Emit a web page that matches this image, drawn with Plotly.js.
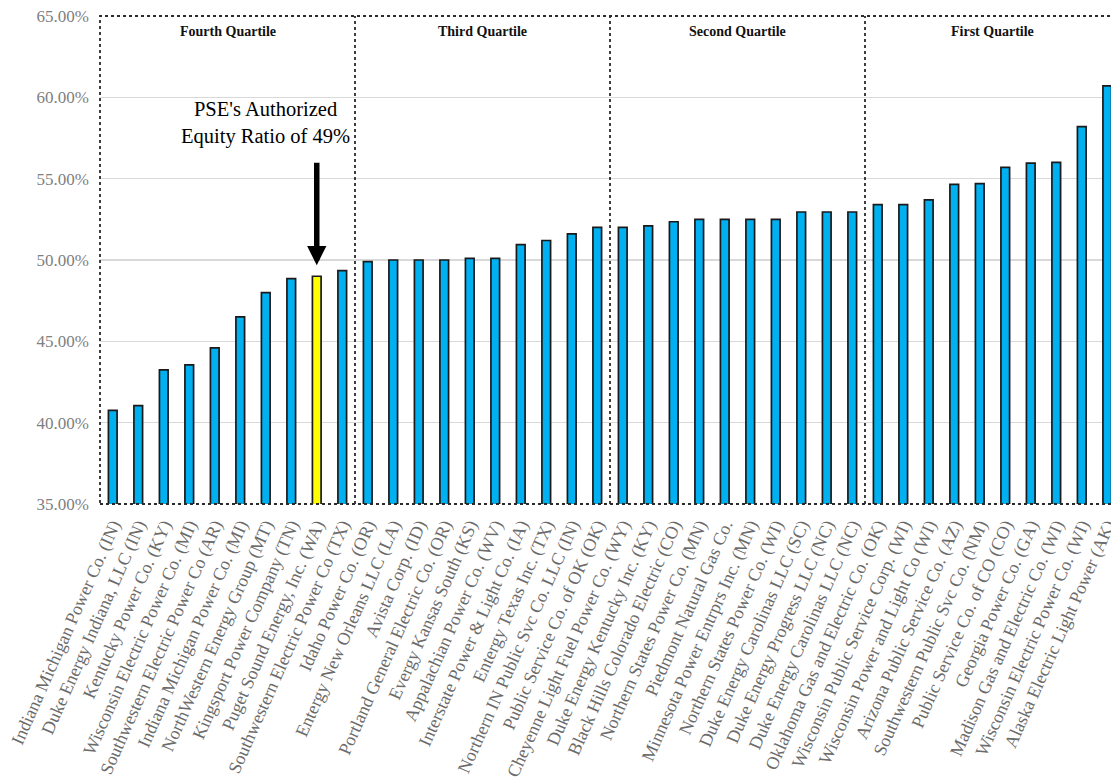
<!DOCTYPE html>
<html>
<head>
<meta charset="utf-8">
<script src="https://cdn.plot.ly/plotly-3.0.1.min.js"></script>
<style>
html,body{margin:0;padding:0;overflow:hidden;background:#fff;}
#chart{width:1130px;height:779px;}
</style>
</head>
<body>
<div id="chart"></div>
<script>
const companies = [
  "Indiana Michigan Power Co. (IN)",
  "Duke Energy Indiana, LLC (IN)",
  "Kentucky Power Co. (KY)",
  "Wisconsin Electric Power Co. (MI)",
  "Southwestern Electric Power Co (AR)",
  "Indiana Michigan Power Co. (MI)",
  "NorthWestern Energy Group (MT)",
  "Kingsport Power Company (TN)",
  "Puget Sound Energy, Inc. (WA)",
  "Southwestern Electric Power Co (TX)",
  "Idaho Power Co. (OR)",
  "Entergy New Orleans LLC (LA)",
  "Avista Corp. (ID)",
  "Portland General Electric Co. (OR)",
  "Evergy Kansas South (KS)",
  "Appalachian Power Co. (WV)",
  "Interstate Power & Light Co. (IA)",
  "Entergy Texas Inc. (TX)",
  "Northern IN Public Svc Co. LLC (IN)",
  "Public Service Co. of OK (OK)",
  "Cheyenne Light Fuel Power Co. (WY)",
  "Duke Energy Kentucky Inc. (KY)",
  "Black Hills Colorado Electric (CO)",
  "Northern States Power Co. (MN)",
  "Piedmont Natural Gas Co.",
  "Minnesota Power Entrprs Inc. (MN)",
  "Northern States Power Co. (WI)",
  "Duke Energy Carolinas LLC (SC)",
  "Duke Energy Progress LLC (NC)",
  "Duke Energy Carolinas LLC (NC)",
  "Oklahoma Gas and Electric Co. (OK)",
  "Wisconsin Public Service Corp. (WI)",
  "Wisconsin Power and Light Co (WI)",
  "Arizona Public Service Co. (AZ)",
  "Southwestern Public Svc Co. (NM)",
  "Public Service Co. of CO (CO)",
  "Georgia Power Co. (GA)",
  "Madison Gas and Electric Co. (WI)",
  "Wisconsin Electric Power Co. (WI)",
  "Alaska Electric Light Power (AK)"
];
const equityRatio = [
  40.75, 41.05, 43.25, 43.55, 44.6, 46.5, 48.0, 48.85, 49.0, 49.35,
  49.9, 50.0, 50.0, 50.0, 50.1, 50.1, 50.95, 51.2, 51.6, 52.0,
  52.0, 52.1, 52.35, 52.5, 52.5, 52.5, 52.5, 52.95, 52.95, 52.95,
  53.4, 53.4, 53.7, 54.65, 54.7, 55.7, 55.95, 56.0, 58.2, 60.7
];
const quartileNames = ["Fourth Quartile", "Third Quartile", "Second Quartile", "First Quartile"];
const highlightCompany = "Puget Sound Energy, Inc. (WA)";
const annotationText = "PSE's Authorized<br>Equity Ratio of 49%";
const yTicks = [35, 40, 45, 50, 55, 60, 65];
const yTickText = ["35.00%", "40.00%", "45.00%", "50.00%", "55.00%", "60.00%", "65.00%"];

const perQuartile = companies.length / quartileNames.length;
const hiIdx = companies.indexOf(highlightCompany);
const colors = companies.map(c => c === highlightCompany ? "#FFFF00" : "#00B0F0");

const trace = {
  type: "bar",
  x: companies,
  y: equityRatio,
  width: 0.34,
  marker: {color: colors, line: {color: "#1a1a1a", width: 1.7}},
  hoverinfo: "x+y"
};

const shapes = [{
  type: "rect", xref: "paper", yref: "paper", x0: 0, x1: 1, y0: 0, y1: 1,
  line: {color: "#2a2a2a", width: 1.8, dash: "dot"}, layer: "above"
}];
for (let q = 1; q < quartileNames.length; q++) {
  shapes.push({
    type: "line", xref: "x", yref: "paper",
    x0: q * perQuartile - 0.5, x1: q * perQuartile - 0.5, y0: 0, y1: 1,
    line: {color: "#2a2a2a", width: 1.8, dash: "dot"}, layer: "above"
  });
}

const annotations = quartileNames.map((name, q) => ({
  xref: "x", yref: "paper",
  x: q * perQuartile + (perQuartile - 1) / 2, y: 0.968,
  text: "<b>" + name + "</b>", showarrow: false,
  font: {family: "Liberation Serif", size: 14, color: "#111"},
  yanchor: "middle"
}));
annotations.push({
  xref: "x", yref: "y", x: companies[hiIdx], y: equityRatio[hiIdx],
  text: "", showarrow: true, arrowhead: 2, arrowsize: 0.7, arrowwidth: 5.5,
  arrowcolor: "#000", ax: 0, ay: -115, standoff: 11
});
annotations.push({
  xref: "x", yref: "paper", x: hiIdx - 2, y: 0.781,
  text: annotationText, showarrow: false, align: "center",
  font: {family: "Liberation Serif", size: 20.5, color: "#000"},
  yanchor: "middle"
});

const layout = {
  width: 1130, height: 779,
  margin: {l: 100, r: 10, t: 16, b: 275},
  paper_bgcolor: "#fff", plot_bgcolor: "#fff",
  showlegend: false,
  bargap: 0.6,
  xaxis: {
    type: "category", tickangle: -66, showgrid: false, zeroline: false, showline: false,
    ticks: "", tickfont: {family: "Liberation Serif", size: 18, color: "#6b6b6b"},
    ticklabelstandoff: 6,
    range: [-0.5, companies.length - 0.5], automargin: false
  },
  yaxis: {
    range: [35, 65], tickvals: yTicks, ticktext: yTickText,
    showgrid: true, gridcolor: "#d9d9d9", gridwidth: 1.5, zeroline: false, showline: false,
    ticks: "", tickfont: {family: "Liberation Serif", size: 17, color: "#808080"},
    ticklabelstandoff: 10,
    automargin: false
  },
  shapes: shapes,
  annotations: annotations
};

Plotly.newPlot("chart", [trace], layout, {displayModeBar: false, staticPlot: true});
</script>
</body>
</html>
